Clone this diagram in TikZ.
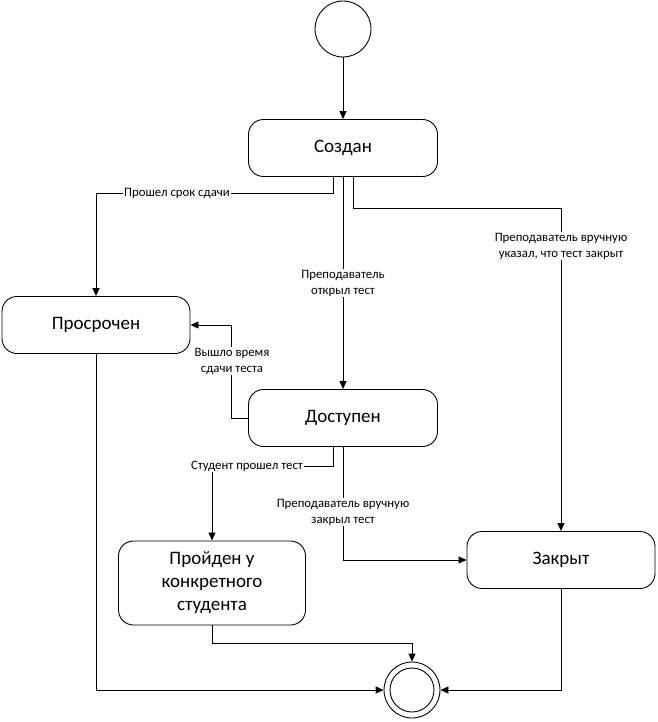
\documentclass[tikz,border=0pt]{standalone}
\usepackage{fontspec}
\setmainfont{Carlito}
\usetikzlibrary{arrows.meta}
\begin{document}
\begin{tikzpicture}[x=1pt,y=-1pt,
  line width=0.9pt,
  state/.style={draw, rounded corners=15pt, minimum width=189pt, minimum height=57pt,
    align=center, font=\fontsize{19}{23}\selectfont},
  edgelabel/.style={fill=white, inner sep=1pt, align=center,
    font=\fontsize{12.8}{16}\selectfont},
  flow/.style={-{Triangle[length=8pt,width=7pt]}}]
\useasboundingbox (0,0) rectangle (657,722);

% states
\node[draw, circle, minimum size=56pt, inner sep=0pt] (init) at (343,29) {};
\node[state] (created) at (343,148) {Создан};
\node[state, minimum width=188pt] (overdue) at (96,325) {Просрочен};
\node[state] (avail) at (343,418) {Доступен};
\node[state, minimum width=187pt, minimum height=84pt] (passed) at (212,583)
  {Пройден у\\конкретного\\студента};
\node[state, minimum width=188pt] (closed) at (561,560) {Закрыт};
\node[draw, circle, minimum size=56pt, inner sep=0pt] (final) at (412,690) {};
\node[draw, circle, minimum size=44pt, inner sep=0pt] (finalin) at (412,690) {};

% transitions
\draw[flow] (init) -- (created);
\draw[flow] ([xshift=-10pt]created.south) -- ++(0,16) -| (overdue.north);
\draw[flow] (created.south) -- (avail.north);
\draw[flow] ([xshift=10pt]created.south) -- ++(0,31) -| (closed.north);
\draw[flow] (avail.west) -- ++(-17,0) |- (overdue.east);
\draw[flow] ([xshift=-10pt]avail.south) -- ++(0,19) -| (passed.north);
\draw[flow] (avail.south) |- (closed.west);
\draw[flow] (passed.south) -- ++(0,18) -| (final.north);
\draw[flow] (overdue.south) |- (final.west);
\draw[flow] (closed.south) |- (final.east);

% transition labels
\node[edgelabel] (l1) at (177,193) {Прошел срок сдачи};
\node[edgelabel] (l2) at (343,283) {Преподаватель\\открыл тест};
\node[edgelabel] (l3) at (561,246) {Преподаватель вручную\\указал, что тест закрыт};
\node[edgelabel] (l4) at (232,361) {Вышло время\\сдачи теста};
\node[edgelabel] (l5) at (247,466) {Студент прошел тест};
\node[edgelabel] (l6) at (343,512) {Преподаватель вручную\\закрыл тест};
\end{tikzpicture}
\end{document}
